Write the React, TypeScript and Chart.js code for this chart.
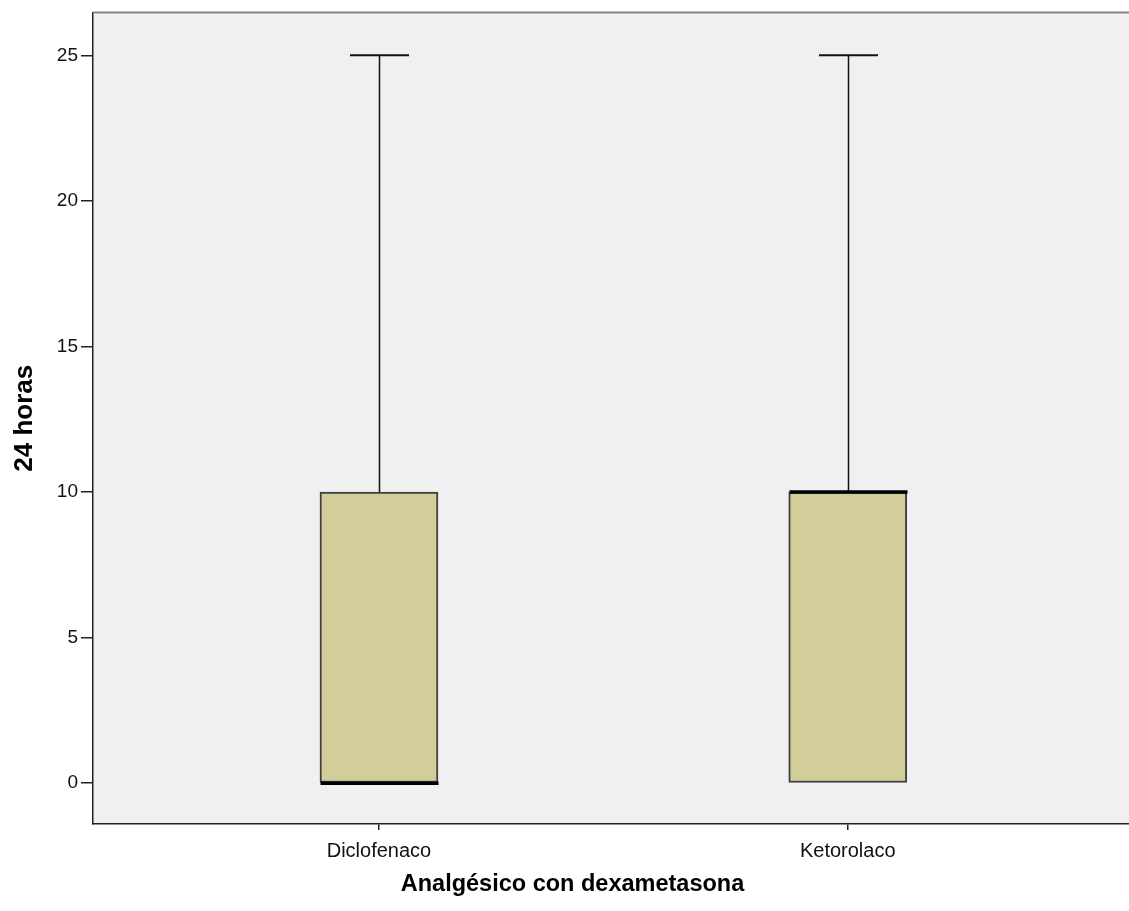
import React, { useEffect, useRef } from "react";
import { Chart, registerables } from "chart.js";

Chart.register(...registerables);

const categories = ["Diclofenaco", "Ketorolaco"];
const whiskerLow = [0, 0];
const q1 = [0, 0];
const medians = [0, 10];
const q3 = [10, 10];
const whiskerHigh = [25, 25];
const yTicks = [0, 5, 10, 15, 20, 25];
const xTitle = "Analgésico con dexametasona";
const yTitle = "24 horas";

const W = 1129;
const H = 911;
const BOX_PX = 118;
const CAP_PX = 59;

const boxplotPlugin = {
  id: "boxplotExtras",
  beforeDraw(chart: any) {
    const { ctx, chartArea } = chart;
    ctx.save();
    ctx.fillStyle = "#f0f0f0";
    ctx.fillRect(chartArea.left, chartArea.top, chartArea.right - chartArea.left, chartArea.bottom - chartArea.top);
    ctx.restore();
  },
  afterDatasetsDraw(chart: any) {
    const { ctx, chartArea } = chart;
    const xs = chart.scales.x;
    const ys = chart.scales.y;
    ctx.save();
    categories.forEach((_, i) => {
      const x = Math.round(xs.getPixelForValue(i + 1)) + 0.5;
      const yHi = ys.getPixelForValue(whiskerHigh[i]);
      const yQ3 = ys.getPixelForValue(q3[i]);
      const yQ1 = ys.getPixelForValue(q1[i]);
      const yLo = ys.getPixelForValue(whiskerLow[i]);
      const yMed = ys.getPixelForValue(medians[i]);
      ctx.strokeStyle = "#111";
      ctx.lineWidth = 1.5;
      ctx.beginPath();
      ctx.moveTo(x, yQ3);
      ctx.lineTo(x, yHi);
      ctx.stroke();
      if (yLo !== yQ1) {
        ctx.beginPath();
        ctx.moveTo(x, yQ1);
        ctx.lineTo(x, yLo);
        ctx.stroke();
      }
      ctx.lineWidth = 2;
      ctx.beginPath();
      ctx.moveTo(x - CAP_PX / 2, yHi);
      ctx.lineTo(x + CAP_PX / 2, yHi);
      ctx.stroke();
      ctx.strokeStyle = "#000";
      ctx.lineWidth = 3.5;
      ctx.beginPath();
      ctx.moveTo(x - BOX_PX / 2, yMed);
      ctx.lineTo(x + BOX_PX / 2, yMed);
      ctx.stroke();
    });
    ctx.strokeStyle = "#858585";
    ctx.lineWidth = 2;
    ctx.beginPath();
    ctx.moveTo(chartArea.left, chartArea.top);
    ctx.lineTo(chartArea.right, chartArea.top);
    ctx.stroke();
    ctx.restore();
  },
  afterDraw(chart: any) {
    const { ctx, chartArea } = chart;
    ctx.save();
    ctx.fillStyle = "#000";
    ctx.textAlign = "center";
    ctx.textBaseline = "middle";
    ctx.font = "bold 23.5px 'Liberation Sans', Arial, sans-serif";
    ctx.fillText(xTitle, chart.width / 2 + 8, 885);
    ctx.font = "bold 26px 'Liberation Sans', Arial, sans-serif";
    ctx.translate(25, (chartArea.top + chartArea.bottom) / 2);
    ctx.rotate(-Math.PI / 2);
    ctx.fillText(yTitle, 0, 0);
    ctx.restore();
  },
};

export default function App() {
  const ref = useRef<HTMLCanvasElement | null>(null);

  useEffect(() => {
    if (!ref.current) return;
    const chart = new Chart(ref.current, {
      type: "bar",
      data: {
        datasets: [
          {
            data: categories.map((_, i) => ({ x: i + 1, y: [q1[i], q3[i]] })) as any,
            backgroundColor: "#d3ce99",
            borderColor: "#404040",
            borderWidth: 2,
            borderSkipped: false,
            barThickness: BOX_PX,
          },
        ],
      },
      options: {
        responsive: false,
        animation: false,
        devicePixelRatio: 1,
        layout: { padding: { top: 11, right: 0, left: 0, bottom: 0 } },
        plugins: {
          legend: { display: false },
          tooltip: { enabled: false },
        },
        scales: {
          x: {
            type: "linear",
            offset: false,
            min: 0.39,
            max: 2.6,
            afterBuildTicks: (scale: any) => {
              scale.ticks = categories.map((_, i) => ({ value: i + 1 }));
            },
            afterFit: (scale: any) => {
              scale.height = H - 824;
            },
            ticks: {
              callback: (v: any) => categories[Number(v) - 1] ?? "",
              color: "#111",
              font: { family: "'Liberation Sans', Arial, sans-serif", size: 20 },
              padding: 9,
              maxRotation: 0,
              autoSkip: false,
            },
            grid: {
              offset: false,
              drawOnChartArea: false,
              drawTicks: true,
              tickLength: 6,
              color: "#222",
              lineWidth: 1.5,
            },
            border: { display: true, color: "#222", width: 1.5 },
          },
          y: {
            type: "linear",
            min: -1.4,
            max: 26.47,
            afterBuildTicks: (scale: any) => {
              scale.ticks = yTicks.map((v) => ({ value: v }));
            },
            afterFit: (scale: any) => {
              scale.width = 93;
            },
            ticks: {
              color: "#111",
              font: { family: "'Liberation Sans', Arial, sans-serif", size: 19, lineHeight: 1 },
              padding: 3,
            },
            grid: {
              drawOnChartArea: false,
              drawTicks: true,
              tickLength: 12,
              color: "#222",
              lineWidth: 1.5,
            },
            border: { display: true, color: "#222", width: 1.5 },
          },
        },
      },
      plugins: [boxplotPlugin],
    });
    return () => chart.destroy();
  }, []);

  return (
    <div style={{ position: "absolute", left: 0, top: 0, width: W, height: H, background: "#fff" }}>
      <canvas ref={ref} width={W} height={H} style={{ width: W, height: H, display: "block" }} />
    </div>
  );
}
